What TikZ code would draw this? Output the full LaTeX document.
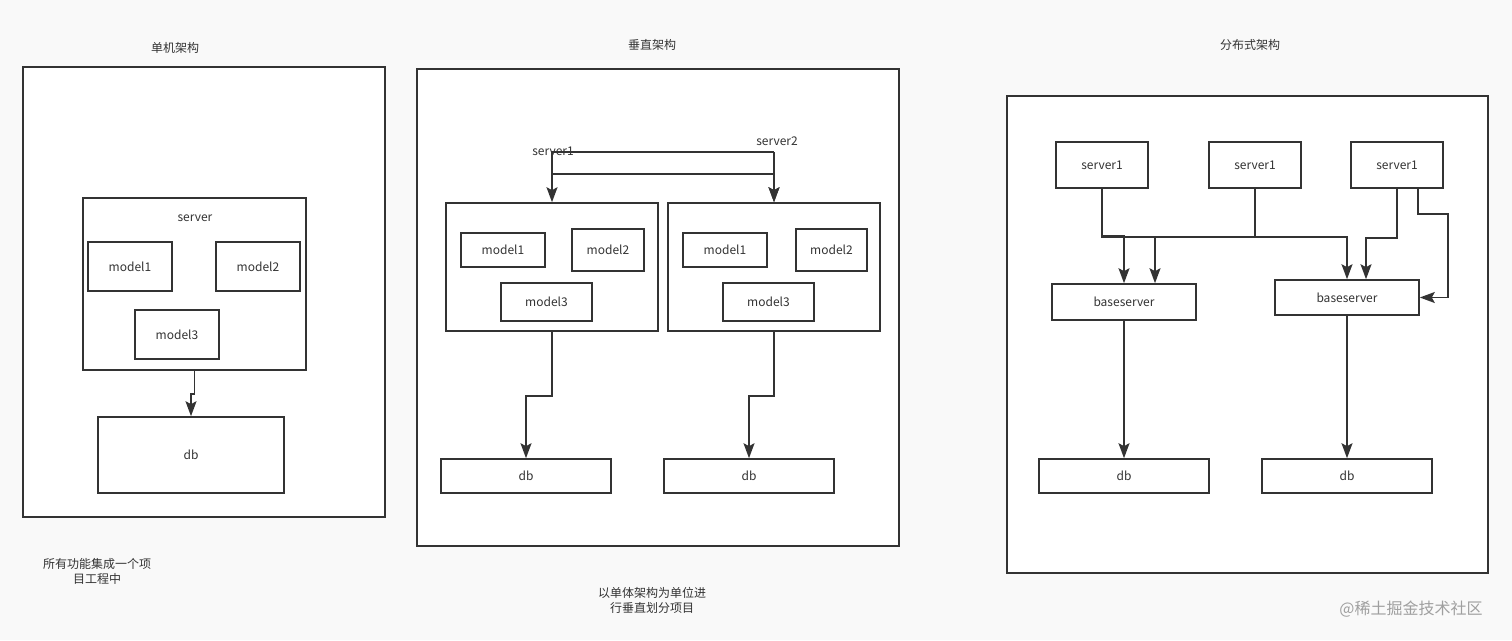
\documentclass[tikz,border=0pt]{standalone}
\usepackage{fontspec}
\newfontfamily\cjk{Noto Sans CJK SC}
\definecolor{LineGray}{HTML}{333333}
\definecolor{PageBg}{HTML}{F9F9F9}
\usetikzlibrary{arrows.meta,positioning}

\begin{document}
\begin{tikzpicture}[
						x=1pt, y=-1pt,
						font=\cjk\fontsize{12}{14}\selectfont,
						text=LineGray,
						frame/.style={draw=LineGray, line width=2pt, fill=white},
						box/.style={draw=LineGray, line width=1.6pt, fill=white, inner sep=0pt},
						link/.style={-{Stealth[length=15pt, width=11pt, inset=3pt]}, draw=LineGray, line width=1.7pt},
						lbl/.style={align=center, inner sep=1pt}
					]
						\fill[PageBg] (0,0) rectangle (1512,640);
						\useasboundingbox (0,0) rectangle (1512,640);

						% single machine
						\node[lbl] (t1) at (175,48) {单机架构};
						\node[frame, minimum width=362, minimum height=450] (frameL) at (204,292) {};
						\node[box, minimum width=223, minimum height=172] (srv) at (194.5,284) {};
						\node[lbl] (srvlbl) at (195,218) {server};
						\node[box, minimum width=84, minimum height=49] (m1) at (130,266.5) {model1};
						\node[box, minimum width=84, minimum height=49] (m2) at (258,266.5) {model2};
						\node[box, minimum width=84, minimum height=49] (m3) at (177,334.5) {model3};
						\node[box, minimum width=186, minimum height=76] (db) at (191,455) {db};
						\draw[link] (srv.south) -- ++(0,23) -| (db.north);
						\node[lbl, font=\cjk\fontsize{12}{15}\selectfont] (c1) at (97,571) {所有功能集成一个项\\目工程中};

						% vertical
						\node[lbl] (t2) at (652,45) {垂直架构};
						\node[frame, minimum width=482, minimum height=477] (frameM) at (658,307.5) {};
						\node[box, minimum width=212, minimum height=128] (appA) at (552,267) {};
						\node[box, minimum width=212, minimum height=128] (appB) at (774,267) {};
						\node[box, minimum width=84, minimum height=34] (a1) at (503,250) {model1};
						\node[box, minimum width=72, minimum height=42] (a2) at (608,250) {model2};
						\node[box, minimum width=91, minimum height=38] (a3) at (546.5,302) {model3};
						\node[box, minimum width=84, minimum height=34] (b1) at (725,250) {model1};
						\node[box, minimum width=71, minimum height=42] (b2) at (831.5,250) {model2};
						\node[box, minimum width=91, minimum height=38] (b3) at (768.5,302) {model3};
						\node[box, minimum width=170, minimum height=34] (dbA) at (526,476) {db};
						\node[box, minimum width=170, minimum height=34] (dbB) at (749,476) {db};
						\coordinate (s1) at (552,152);
						\coordinate (s2) at (774,152);
						\node[lbl] (s1lbl) at (553,151) {server1};
						\node[lbl] (s2lbl) at (777,141) {server2};
						\draw[link] (s1) -- ++(0,22) -| (appB.north);
						\draw[link] (s2) -| (appA.north);
						\draw[link] (s2) -- (appB.north);
						\draw[link] (appA.south) -- ++(0,64) -| (dbA.north);
						\draw[link] (appB.south) -- ++(0,64) -| (dbB.north);
						\node[lbl, font=\cjk\fontsize{12}{15}\selectfont] (c2) at (652,600) {以单体架构为单位进\\行垂直划分项目};

						% distributed
						\node[lbl] (t3) at (1250,45) {分布式架构};
						\node[frame, minimum width=481, minimum height=477] (frameR) at (1247.5,334.5) {};
						\node[box, minimum width=92, minimum height=46] (srvA) at (1102,165) {server1};
						\node[box, minimum width=92, minimum height=46] (srvB) at (1255,165) {server1};
						\node[box, minimum width=92, minimum height=46] (srvC) at (1397,165) {server1};
						\node[box, minimum width=144, minimum height=36] (bsL) at (1124,302) {baseserver};
						\node[box, minimum width=144, minimum height=35] (bsR) at (1347,297.5) {baseserver};
						\node[box, minimum width=170, minimum height=34] (dbL) at (1124,476) {db};
						\node[box, minimum width=170, minimum height=34] (dbR) at (1347,476) {db};
						\draw[link] (srvA.south) -- ++(0,47) -| (bsL.north);
						\draw[link] (srvA.south) -- ++(0,48) -| (bsR.north);
						\draw[link] (srvB.south) -- ++(0,48) -| ([xshift=31]bsL.north);
						\draw[link] (srvC.south) -- ++(0,49) -| ([xshift=19]bsR.north);
						\draw[link] ([xshift=21]srvC.south) -- ++(0,25) -| ([xshift=28]bsR.east) -- (bsR.east);
						\draw[link] (bsL.south) -- (dbL.north);
						\draw[link] (bsR.south) -- (dbR.north);

						\node[lbl, text=gray!75, font=\cjk\fontsize{16}{18}\selectfont] (mark) at (1411,609) {@稀土掘金技术社区};
					\end{tikzpicture}
\end{document}
